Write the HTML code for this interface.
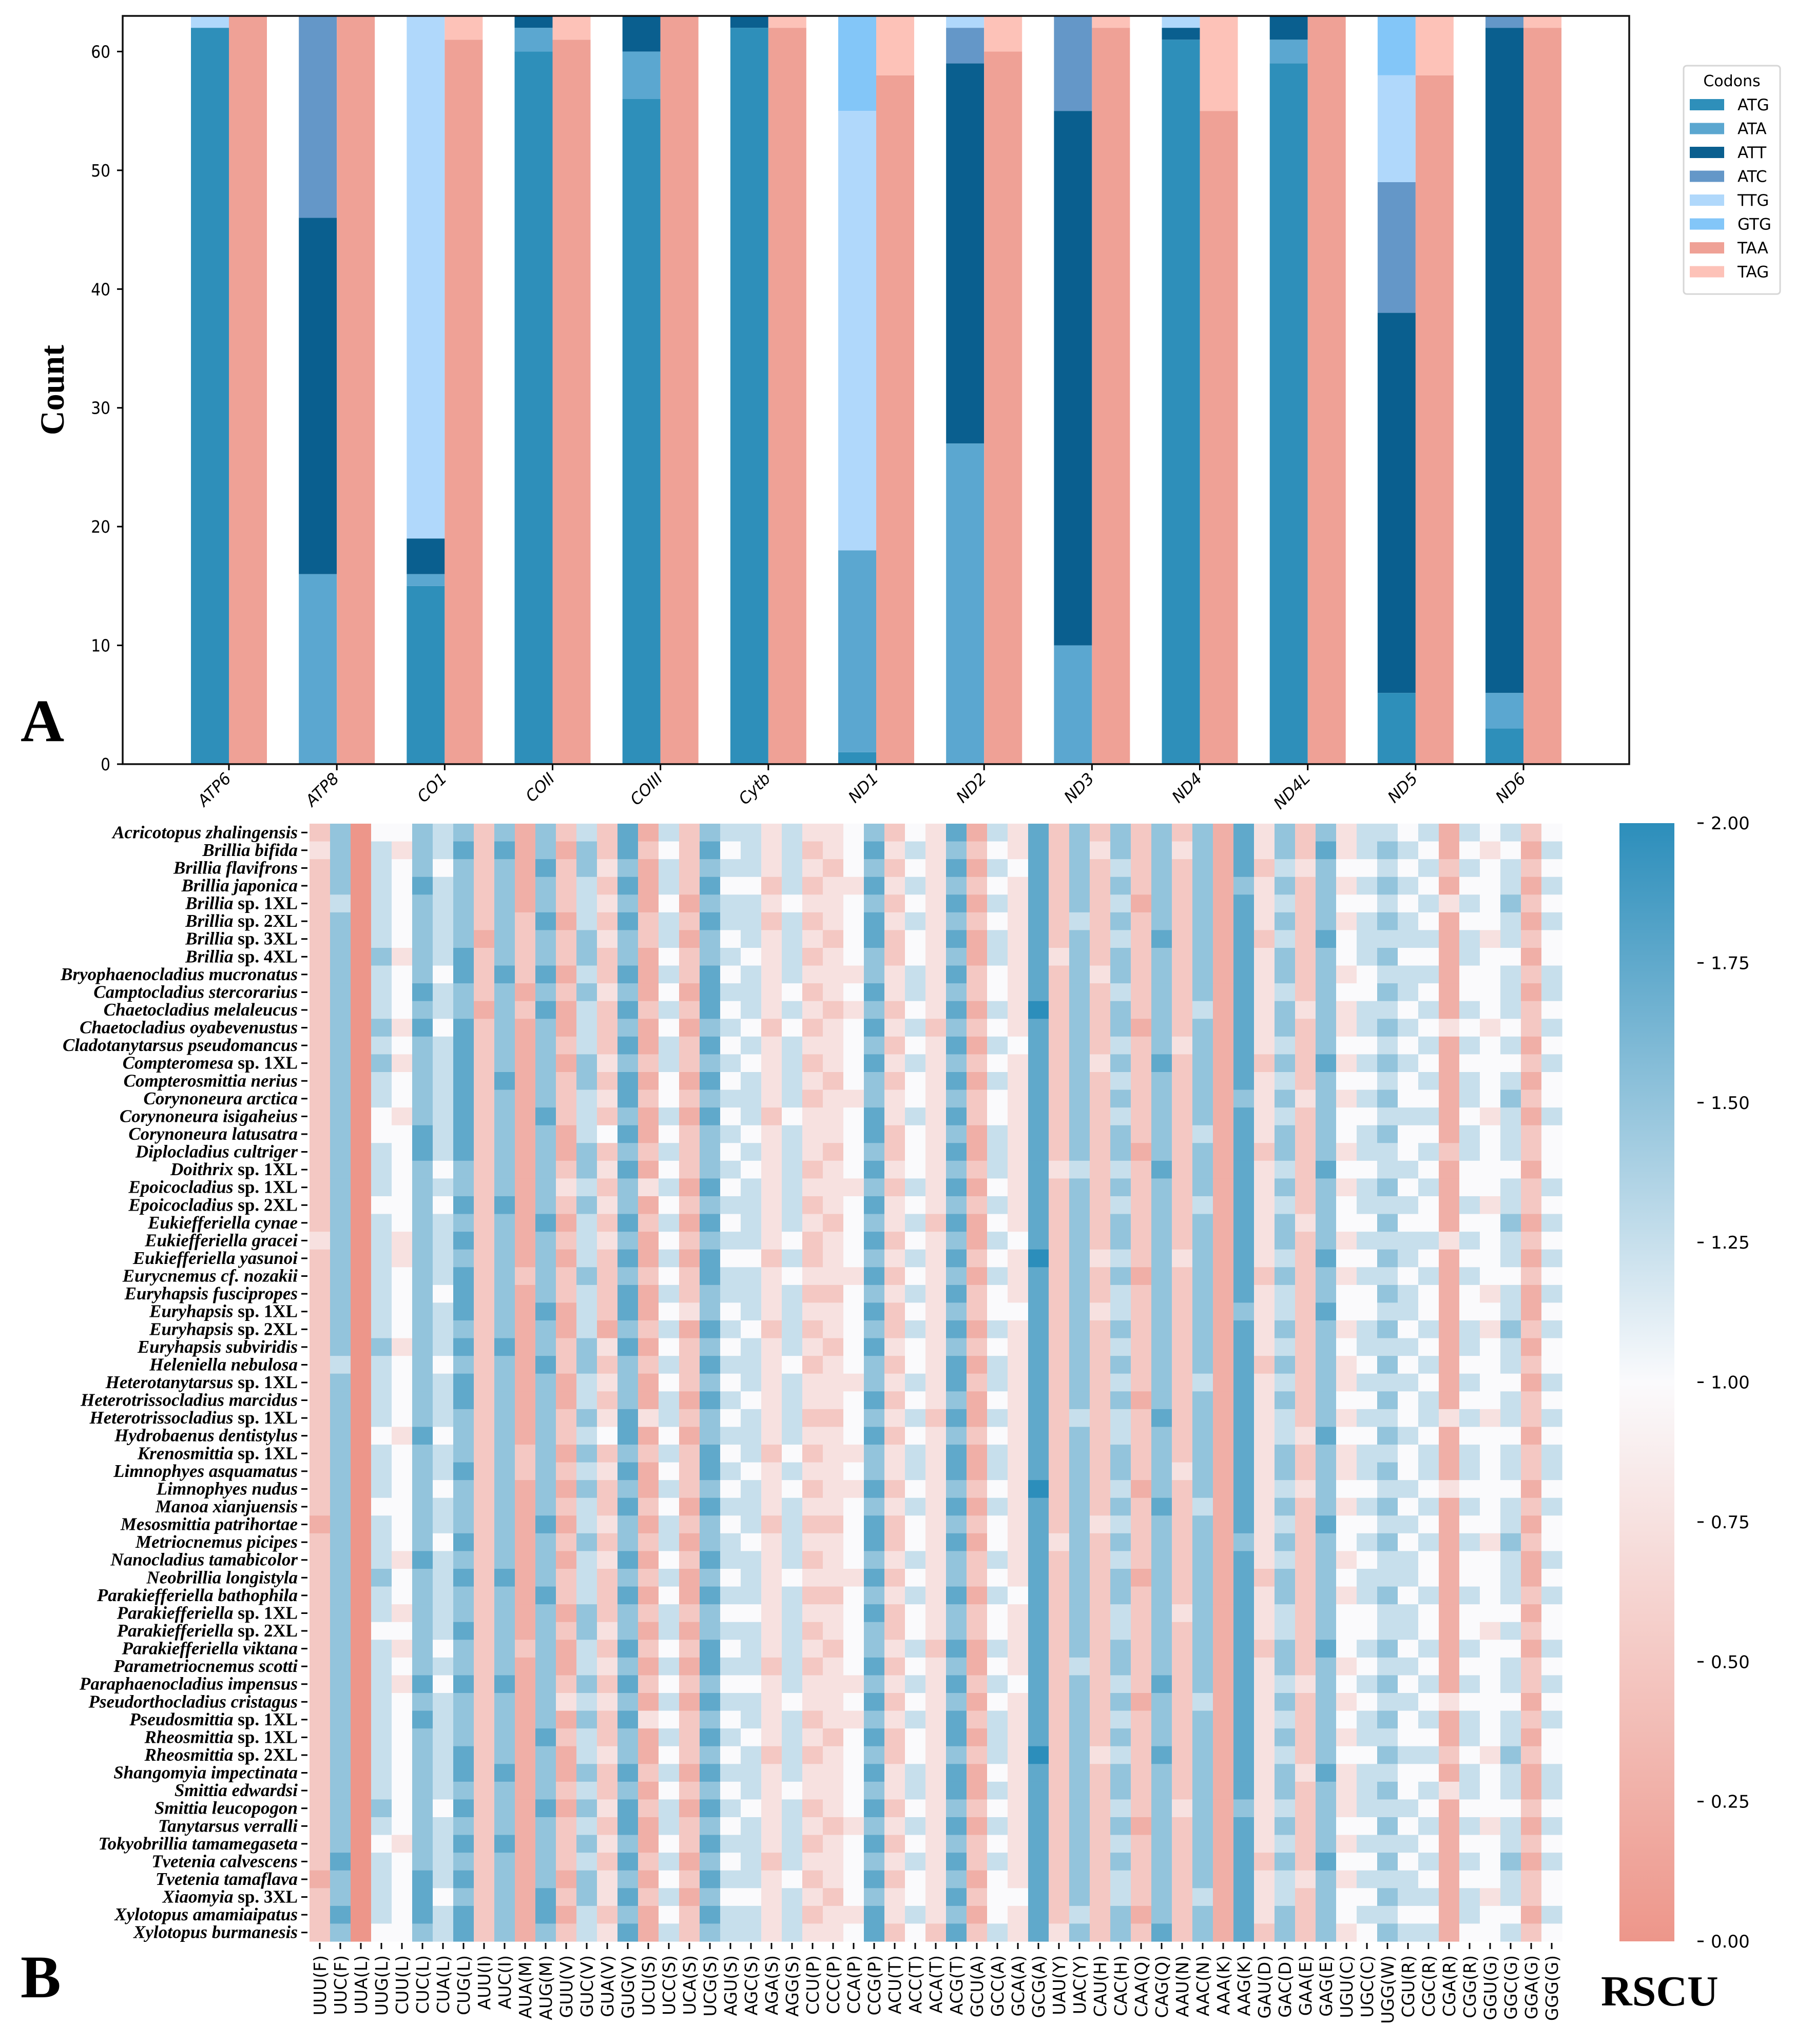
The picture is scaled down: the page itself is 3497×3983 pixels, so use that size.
<!DOCTYPE html>
<html><head><meta charset="utf-8"><title>Codon usage</title>
<style>
html,body{margin:0;padding:0;background:#fff;}
svg{display:block;}
</style></head>
<body>
<svg id="fig" xmlns="http://www.w3.org/2000/svg" width="3497" height="3983" viewBox="0 0 3497 3983">
<rect x="0" y="0" width="3497" height="3983" fill="#fff"/>
<g id="barPanel"></g>
<g id="heatPanel"></g>
<text x="40" y="1444" font-family="Liberation Serif, serif" font-weight="bold" font-size="118">A</text>
<text x="40" y="3892" font-family="Liberation Serif, serif" font-weight="bold" font-size="118">B</text>
<text transform="translate(124,760) rotate(-90)" text-anchor="middle" font-family="Liberation Serif, serif" font-weight="bold" font-size="66">Count</text>
<text x="3119" y="3908" font-family="Liberation Serif, serif" font-weight="bold" font-size="84">RSCU</text>
</svg>
<script>
// ---------- Panel A data ----------
const genes = ["ATP6","ATP8","CO1","COII","COIII","Cytb","ND1","ND2","ND3","ND4","ND4L","ND5","ND6"];
const startCodons = ["ATG","ATA","ATT","ATC","TTG","GTG"];
const stopCodons = ["TAA","TAG"];
const ATG = [62,0,15,60,56,62,1,0,0,61,59,6,3];
const ATA = [0,16,1,2,4,0,17,27,10,0,2,0,3];
const ATT = [0,30,3,1,3,1,0,32,45,1,2,32,56];
const ATC = [0,17,0,0,0,0,0,3,8,0,0,11,1];
const TTG = [1,0,44,0,0,0,37,1,0,1,0,9,0];
const GTG = [0,0,0,0,0,0,8,0,0,0,0,5,0];
const TAA = [63,63,61,61,63,62,58,60,62,55,63,58,62];
const TAG = [0,0,2,2,0,1,5,3,1,8,0,5,1];
const yTicks = [0,10,20,30,40,50,60];
const yMax = 63;

// ---------- Panel B data ----------
const species = ["Acricotopus zhalingensis","Brillia bifida","Brillia flavifrons","Brillia japonica","Brillia sp. 1XL","Brillia sp. 2XL","Brillia sp. 3XL","Brillia sp. 4XL","Bryophaenocladius mucronatus","Camptocladius stercorarius","Chaetocladius melaleucus","Chaetocladius oyabevenustus","Cladotanytarsus pseudomancus","Compteromesa sp. 1XL","Compterosmittia nerius","Corynoneura arctica","Corynoneura isigaheius","Corynoneura latusatra","Diplocladius cultriger","Doithrix sp. 1XL","Epoicocladius sp. 1XL","Epoicocladius sp. 2XL","Eukiefferiella cynae","Eukiefferiella gracei","Eukiefferiella yasunoi","Eurycnemus cf. nozakii","Euryhapsis fuscipropes","Euryhapsis sp. 1XL","Euryhapsis sp. 2XL","Euryhapsis subviridis","Heleniella nebulosa","Heterotanytarsus sp. 1XL","Heterotrissocladius marcidus","Heterotrissocladius sp. 1XL","Hydrobaenus dentistylus","Krenosmittia sp. 1XL","Limnophyes asquamatus","Limnophyes nudus","Manoa xianjuensis","Mesosmittia patrihortae","Metriocnemus picipes","Nanocladius tamabicolor","Neobrillia longistyla","Parakiefferiella bathophila","Parakiefferiella sp. 1XL","Parakiefferiella sp. 2XL","Parakiefferiella viktana","Parametriocnemus scotti","Paraphaenocladius impensus","Pseudorthocladius cristagus","Pseudosmittia sp. 1XL","Rheosmittia sp. 1XL","Rheosmittia sp. 2XL","Shangomyia impectinata","Smittia edwardsi","Smittia leucopogon","Tanytarsus verralli","Tokyobrillia tamamegaseta","Tvetenia calvescens","Tvetenia tamaflava","Xiaomyia sp. 3XL","Xylotopus amamiaipatus","Xylotopus burmanesis"];
const codons = ["UUU(F)","UUC(F)","UUA(L)","UUG(L)","CUU(L)","CUC(L)","CUA(L)","CUG(L)","AUU(I)","AUC(I)","AUA(M)","AUG(M)","GUU(V)","GUC(V)","GUA(V)","GUG(V)","UCU(S)","UCC(S)","UCA(S)","UCG(S)","AGU(S)","AGC(S)","AGA(S)","AGG(S)","CCU(P)","CCC(P)","CCA(P)","CCG(P)","ACU(T)","ACC(T)","ACA(T)","ACG(T)","GCU(A)","GCC(A)","GCA(A)","GCG(A)","UAU(Y)","UAC(Y)","CAU(H)","CAC(H)","CAA(Q)","CAG(Q)","AAU(N)","AAC(N)","AAA(K)","AAG(K)","GAU(D)","GAC(D)","GAA(E)","GAG(E)","UGU(C)","UGC(C)","UGG(W)","CGU(R)","CGC(R)","CGA(R)","CGG(R)","GGU(G)","GGC(G)","GGA(G)","GGG(G)"];
// RSCU per codon column, one digit per species (value = digit * 0.25)
const rscuColumns = [
"232222222222222222222223222222222222222122222222222222222221222",
"666656666666666666666666666666566666666666666666666666666676676",
"000000000000000000000000000000000000000000000000000000000000000",
"455555565556565544555455555556555545554555655455555555565455554",
"434444434443434434444443344443444434444443443434344444444344444",
"666766666767666667766666666666666676666667666666767666666667776",
"554555554554555555545455554555455545545545555545455555545555455",
"676666677667777777766767677767677666766676766766766677676767677",
"222222122212222222222222222222222222222222222222222222222222222",
"676666667666667666666766666667666666666666766666766667666766666",
"111112222121111111111111121111111112211111111121111111111111111",
"667667667676666676666676666766766666666766676666666766676666776",
"212221221211212221123212122112211221212121221211231211212221212",
"566555665655566555665655565556655656565565556655656556565656655",
"223232322322232324232323222213232342322323222323232232232323323",
"776767667676767767676676767767666776767667676676767667677676767",
"121112211121121211213121121121211312112121212121213112121121211",
"545545545454554454545454545454545545454554545545454545455454545",
"222212122121221212221212122312221212221212112121212221212212122",
"676767667776767676667676776676767667767667676677676767676767676",
"545455454545454545454545455454545454545455454545454545454545455",
"555455545554545554545555455545554555455545554555455455545555455",
"333232333332333323333333233323333332333233333332333323333323333",
"555545555454555545555554545555455554545555455555545555455554555",
"323232323232323233323232232323233232323232323232332323323232323",
"332333233323332333233323332332333233333233323323333233332333233",
"444344443434444344443444434444434443434444344444343444443444434",
"676767766767676677676767676767667676676776767667676767676767677",
"232323223323232332232332323223232323323223232232323223323232332",
"454545445545454454445454545454454545545445454454545445545454454",
"333333333332333333333323333333333233333333333323333333333333332",
"767676767676767676767676767676776767767676676676767767767676767",
"121212112212121221121211212212121121121212212211212121121221212",
"545454554454545445554545454454554545545445454454545554545454445",
"334333333333433333333334333433333333333333343333433333333333433",
"777777777787777777777777877777777777787777777777777787777777777",
"222222232222222222232222222222222222222232222222222222222222223",
"666665666666666666656666666666666566666666666665666666666666656",
"232222223222232222222222322322222222222322222222222232222222222",
"665656566566565656656566565565656556656565665566565656656565566",
"222212222221222222122222212222221222212222122222212222221222212",
"666666766666676666676666666666666766667666666666766676666666667",
"232222222222322222222222322222222222322222223222222222232222222",
"666666666656666665666566666666656666665666666666656666666666566",
"111111111111111111111111111111111111111111111111111111111111111",
"777677777777777677777777777677777777777767777777777777767777777",
"332333233333323333233333323333233333333333233323333333333323332",
"665656566566565656656566565565656556656565665566565656656565566",
"223222222232222322222232222222222232232222222222322223222223222",
"676666766666676666676666766766666676666766666676666667666676666",
"334343443433434344343443434434334343343443434443434343334343443",
"554545554455454545545545454455454545545454554454545545554545454",
"565656565656565656556565656565656565656565565565656565656565656",
"454545545545454454454545545545454454454545545545454454454545545",
"545454545454545454545445454454545545545454454454545454545454545",
"112131111113111111211113111111111311131111111111131121311111111",
"545454554454545545544545454455454545545454454454545545545454554",
"434444344443444434444344443434444344444434444344444434443444344",
"545565545554545655545565545565545545545565554545545565545565545",
"212121212122121212212212121121212212212121121212212121121212212",
"454545445545454454445454545454454545545445454454545445545454454"
];
const cbTicks = ["0.00","0.25","0.50","0.75","1.00","1.25","1.50","1.75","2.00"];
const cbMin = 0, cbMax = 2;

const NS = "http://www.w3.org/2000/svg";
function mk(tag, attrs, parent) {
  const el = document.createElementNS(NS, tag);
  for (const k in attrs) el.setAttribute(k, attrs[k]);
  parent.appendChild(el);
  return el;
}

// ---------- Panel A ----------
const A = { left: 239, right: 3174, top: 31, bottom: 1489 };
const firstCenter = 446, spacing = 210.17, barW = 74;
function xGene(i) { return firstCenter + i * spacing; }
function yCount(v) { return A.bottom - v / yMax * (A.bottom - A.top); }
const startColors = { ATG: "#2E8FBA", ATA: "#5BA7D0", ATT: "#0A5F8F", ATC: "#6497C8", TTG: "#B0D8FB", GTG: "#83C6F8" };
const stopColors = { TAA: "#EFA196", TAG: "#FDC2B8" };
const startSeries = { ATG: ATG, ATA: ATA, ATT: ATT, ATC: ATC, TTG: TTG, GTG: GTG };
const stopSeries = { TAA: TAA, TAG: TAG };
const bp = document.getElementById("barPanel");

genes.forEach((g, i) => {
  let cum = 0;
  startCodons.forEach(c => {
    const v = startSeries[c][i];
    if (v > 0) {
      const r = mk("rect", { x: xGene(i) - barW, y: yCount(cum + v), width: barW, height: yCount(cum) - yCount(cum + v), fill: startColors[c] }, bp);
      
      
    }
    cum += v;
  });
  let cum2 = 0;
  stopCodons.forEach(c => {
    const v = stopSeries[c][i];
    if (v > 0) {
      const r = mk("rect", { x: xGene(i), y: yCount(cum2 + v), width: barW, height: yCount(cum2) - yCount(cum2 + v), fill: stopColors[c] }, bp);
      
      
    }
    cum2 += v;
  });
  const tk = mk("line", { x1: xGene(i), x2: xGene(i), y1: A.bottom, y2: A.bottom + 12, stroke: "#000", "stroke-width": 3 }, bp);
  
  
  const t = mk("text", { transform: "translate(" + (xGene(i) + 6) + "," + (A.bottom + 30) + ") rotate(-45)", "text-anchor": "end", "font-family": "DejaVu Sans, Liberation Sans, sans-serif", "font-style": "italic", "font-size": 31 }, bp);
  t.textContent = g;
  
  
});
const frame = mk("rect", { x: A.left, y: A.top, width: A.right - A.left, height: A.bottom - A.top, fill: "none", stroke: "#111", "stroke-width": 3.5 }, bp);


yTicks.forEach(v => {
  const l = mk("line", { x1: A.left - 11, x2: A.left, y1: yCount(v), y2: yCount(v), stroke: "#000", "stroke-width": 3 }, bp);
  
  
  const t = mk("text", { x: A.left - 24, y: yCount(v) + 12, "text-anchor": "end", "font-family": "DejaVu Sans Condensed, DejaVu Sans, sans-serif", "font-size": 33 }, bp);
  t.textContent = v;
  
  
});
// legend
const lg = mk("g", {}, bp);


const lbox = mk("rect", { x: 3280, y: 128, width: 188, height: 445, rx: 6, fill: "#fff", stroke: "#d6d6d6", "stroke-width": 3 }, lg);


const lt = mk("text", { x: 3374, y: 168, "text-anchor": "middle", "font-family": "DejaVu Sans, Liberation Sans, sans-serif", "font-size": 30 }, lg);
lt.textContent = "Codons";


startCodons.concat(stopCodons).forEach((c, k) => {
  const y = 204 + k * 46.5;
  const col = startColors[c] || stopColors[c];
  const p = mk("rect", { x: 3292, y: y - 11, width: 67, height: 22, fill: col }, lg);
  
  
  const t = mk("text", { x: 3385, y: y + 11, "font-family": "DejaVu Sans, Liberation Sans, sans-serif", "font-size": 31 }, lg);
  t.textContent = c;
  
  
});

// ---------- Panel B ----------
const H = { left: 603, right: 3043, top: 1605, bottom: 3783 };
const cellW = (H.right - H.left) / codons.length;
const cellH = (H.bottom - H.top) / species.length;
function xCol(j) { return H.left + j * cellW; }
function yRow(i) { return H.top + i * cellH; }
const lowC = [237, 150, 138], midC = [250, 250, 252], highC = [44, 142, 187];
function colorFor(v) {
  let t = (v - cbMin) / (cbMax - cbMin);
  t = Math.max(0, Math.min(1, t));
  let a, b, f;
  if (t < 0.5) { a = lowC; b = midC; f = t / 0.5; } else { a = midC; b = highC; f = (t - 0.5) / 0.5; }
  const c = a.map((x, k) => Math.round(x + (b[k] - x) * f));
  return "rgb(" + c.join(",") + ")";
}
const hp = document.getElementById("heatPanel");
rscuColumns.forEach((colStr, j) => {
  for (let i = 0; i < species.length; i++) {
    const v = parseInt(colStr[i], 10) * 0.25;
    const r = mk("rect", { x: xCol(j), y: yRow(i), width: cellW + 0.6, height: cellH + 0.6, fill: colorFor(v) }, hp);
    
    
  }
});
species.forEach((s, i) => {
  const y = yRow(i) + cellH / 2;
  const l = mk("line", { x1: H.left - 16, x2: H.left - 4, y1: y, y2: y, stroke: "#000", "stroke-width": 3 }, hp);
  
  
  const t = mk("text", { x: H.left - 23, y: y + 11, "text-anchor": "end", "font-family": "Liberation Serif, serif", "font-weight": "bold", "font-size": 35 }, hp);
  const m = s.match(/^(\S+)( sp\. .*)$/);
  if (m) {
    const a = mk("tspan", { "font-style": "italic" }, t); a.textContent = m[1];
    const b = mk("tspan", {}, t); b.textContent = m[2];
  } else {
    t.setAttribute("font-style", "italic");
    t.textContent = s;
  }
  
  
});
codons.forEach((c, j) => {
  const x = xCol(j) + cellW / 2;
  const l = mk("line", { x1: x, x2: x, y1: H.bottom + 3, y2: H.bottom + 15, stroke: "#000", "stroke-width": 3 }, hp);
  
  
  const t = mk("text", { transform: "translate(" + (x + 12) + "," + (H.bottom + 27) + ") rotate(-90)", "text-anchor": "end", "font-family": "DejaVu Sans, Liberation Sans, sans-serif", "font-size": 33 }, hp);
  t.textContent = c;
  
  
});
// colorbar
const CB = { x: 3155, w: 107, top: 1604, bottom: 3783 };
const defs = mk("defs", {}, hp);
const grad = mk("linearGradient", { id: "cbgrad", x1: 0, y1: 1, x2: 0, y2: 0 }, defs);
[0, 0.25, 0.5, 0.75, 1].forEach(f => {
  mk("stop", { offset: f, "stop-color": colorFor(cbMin + f * (cbMax - cbMin)) }, grad);
});
const cb = mk("rect", { x: CB.x, y: CB.top, width: CB.w, height: CB.bottom - CB.top, fill: "url(#cbgrad)" }, hp);


function yCb(v) { return CB.bottom - (v - cbMin) / (cbMax - cbMin) * (CB.bottom - CB.top); }
cbTicks.forEach(s => {
  const y = yCb(parseFloat(s));
  const l = mk("line", { x1: 3307, x2: 3319, y1: y, y2: y, stroke: "#000", "stroke-width": 3 }, hp);
  
  
  const t = mk("text", { x: 3333, y: y + 12, "font-family": "DejaVu Sans, Liberation Sans, sans-serif", "font-size": 34 }, hp);
  t.textContent = s;
  
  
});
</script>
</body></html>
